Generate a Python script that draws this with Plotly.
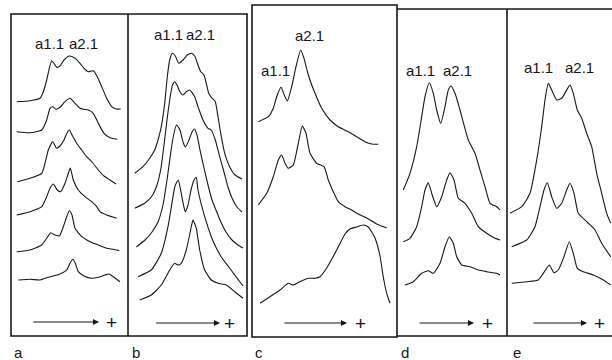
import plotly.graph_objects as go

# ---- densitometric scans (position along strip, trace level) ----
# Panel a
A1_X = [16.7, 30, 40, 43.3, 46.7, 49.3, 51.7, 54, 56.7, 60, 64, 69.3, 75, 80, 84, 88.3, 93.3, 97.3, 101.7, 106.7, 111.7, 116, 120.7]
A1_Y = [101.7, 100.7, 98.3, 91.7, 80, 68.3, 60.7, 63.3, 67.3, 66, 60, 56, 58.3, 63.3, 68.3, 71.7, 70.7, 76.7, 86.7, 98.3, 106.7, 109, 109]
A2_X = [16.7, 30, 41.7, 46.7, 50, 52.7, 56, 60, 65, 70, 75, 79.3, 83.3, 88.3, 93.3, 98.3, 104, 110, 117.3]
A2_Y = [131.7, 132.7, 130, 120, 108.3, 106.7, 109.3, 107.3, 101.7, 98.3, 103.3, 107.7, 109.3, 110, 113.3, 123.3, 133.3, 137.7, 139.3]
A3_X = [17.3, 30, 41.7, 45, 48.3, 52.7, 56.7, 60, 64, 67, 69.3, 72, 76.7, 81.7, 86.7, 92, 98.3, 104, 110, 116]
A3_Y = [181.7, 178.3, 173.3, 163.3, 150, 141.7, 148.3, 146, 140, 133, 130, 135, 143.3, 150, 156.7, 162, 170, 176, 180, 184]
A4_X = [16.7, 30, 41.7, 46.7, 50, 53.3, 57.3, 60.7, 65, 68.3, 70.3, 73.3, 78.3, 85, 91.7, 96.7, 100, 106.7, 116.7]
A4_Y = [215, 211.7, 206.7, 196.7, 188.3, 184, 190, 191.7, 183.3, 173.3, 168, 180, 190, 196.7, 201.7, 206.7, 211.7, 215, 218.3]
A5_X = [16.7, 30, 41.7, 46.7, 50.7, 55, 59.3, 63.3, 66.7, 69.3, 72, 75, 81.7, 90, 98.3, 106.7, 113.3, 119.3]
A5_Y = [251.7, 250, 245, 238.3, 232.7, 235, 236, 226.7, 216.7, 210.7, 215, 228.3, 236.7, 241.7, 245, 248.3, 249.3, 250.7]
A6_X = [18.3, 30, 40, 48.3, 53.3, 60, 66.7, 70, 72.7, 75.3, 78.3, 84, 91.7, 98.3, 105, 109.3, 114, 120]
A6_Y = [280, 279.3, 280, 277.3, 276, 274, 270, 263.3, 259.3, 263.3, 271.7, 276, 278.3, 277.3, 275, 274, 277.3, 281.7]

# Panel b
B1_X = [134.7, 143, 149.7, 154.7, 158, 161.3, 164.7, 167.3, 169.7, 172.3, 175.3, 178.7, 183, 187.3, 191.3, 194.7, 198, 200.7, 204, 206.3, 208.7, 211.3, 215.3, 218, 221.3, 224.7, 229.7, 235, 242]
B1_Y = [173.3, 166.7, 158.3, 150, 140, 126.7, 103.3, 76.7, 60, 53.3, 56, 63.3, 60, 55, 53.3, 56, 65, 71.7, 75, 83.3, 93.3, 97.3, 101.7, 116.7, 136.7, 153.3, 167, 175, 179]
B2_X = [134.7, 145, 152, 157, 161, 164, 167, 170, 172.5, 174.7, 177, 180, 183, 186, 189.7, 194.7, 198, 203, 208, 211.3, 215.3, 219.7, 224, 228, 232, 237, 242]
B2_Y = [208.3, 203, 196, 185, 168, 145, 120, 98, 85, 81.7, 85, 92, 95, 92, 90, 96.7, 106.7, 120, 128.3, 130, 140, 156.7, 172, 187, 198, 207, 212]
B3_X = [136.3, 145, 152, 158, 163, 167, 170, 173, 176.5, 180, 183, 185.5, 189, 192, 194.5, 197, 200, 204, 208, 212, 216, 220, 226, 232, 238, 243]
B3_Y = [247, 240, 232, 222, 205, 180, 158, 138, 125, 130, 142, 147, 140, 132, 129, 135, 150, 168, 185, 200, 210, 220, 232, 240, 245, 248]
B4_X = [138, 151.3, 161.3, 168, 173, 175, 178.3, 181, 183.5, 185.3, 188, 191, 194, 196.3, 198, 204.7, 211.3, 216.3, 222, 228, 234, 240, 243]
B4_Y = [276.7, 270, 253.3, 226.7, 196.7, 186, 180, 192, 205, 211.7, 205, 190, 180, 177.3, 190, 216.7, 236.7, 248, 258, 266, 274, 282, 286]
B5_X = [139.7, 151.3, 161.3, 169.7, 174.7, 178, 181.3, 186.3, 191.3, 193, 196.3, 199.7, 204.7, 211.3, 218, 226.3, 234.7, 243]
B5_Y = [300, 295, 285, 270, 263.3, 265, 263.3, 250, 226.7, 220, 228.3, 250, 270, 280, 283.3, 285, 291.7, 298.3]

# Panel c
C1_X = [258.3, 268.3, 273.3, 276.7, 281, 284.3, 287.3, 291.7, 296, 300.7, 304, 308.3, 315, 321.7, 330, 338.3, 348.3, 356.7, 365, 371.7, 378.3]
C1_Y = [121.7, 116.7, 108.3, 96.7, 87.3, 95, 101, 86.7, 66.7, 50, 58.3, 75, 93.3, 108.3, 120, 126.7, 131.7, 136.7, 141.7, 144, 144.3]
C2_X = [258.3, 266.7, 273.3, 278.3, 281.7, 285, 288.3, 293.3, 298.3, 302.3, 306, 310, 316.7, 324, 328.3, 333.3, 338.3, 345, 351.7, 358.3, 366.7, 376.7, 386.7]
C2_Y = [205, 193.3, 176.7, 160, 155, 163.3, 168.3, 165, 143.3, 126, 133.3, 153.3, 163.3, 166.7, 180, 191.7, 201.7, 206.7, 210, 214, 218, 224, 228]
C3_X = [260, 270, 280, 288.3, 293.3, 300, 308.3, 315, 320, 326.7, 336.7, 345, 350, 356.7, 363.3, 368.3, 375, 380, 383.3, 386.7, 390]
C3_Y = [303.3, 296.7, 290, 283.3, 285, 281.7, 278.3, 278.3, 276.7, 268, 250, 234, 229, 227, 225, 227, 238, 256, 277, 293.3, 303.3]

# Panel d
D1_X = [403.3, 410, 416.7, 421.7, 425, 429.3, 433.3, 436.7, 440.7, 445, 448.3, 451, 455, 460, 468.3, 475, 480, 485, 490, 496.7, 500]
D1_Y = [190, 173.3, 146.7, 116.7, 96.7, 82.7, 93.3, 110, 123.3, 106.7, 90, 86, 93.3, 110, 140, 153.3, 170, 186.7, 203.3, 206.7, 210]
D2_X = [403.3, 410, 416.7, 421.7, 425, 428.3, 431.7, 436.7, 441.7, 446.7, 450, 454, 458.3, 465, 471.7, 478.3, 486.7, 495, 500]
D2_Y = [241.7, 238.3, 226.7, 206.7, 190, 182.7, 193.3, 206.7, 196.7, 180, 172.7, 180, 198.3, 203.3, 213.3, 226.7, 233.3, 238.3, 240]
D3_X = [405, 413.3, 421.7, 428.3, 433.3, 440, 445, 449.3, 453.3, 456.7, 461.7, 470, 478.3, 486.7, 496.7, 500]
D3_Y = [285, 281.7, 273.3, 270.7, 273.3, 263.3, 246.7, 236.7, 243.3, 256.7, 265, 266.7, 270, 271.7, 273.3, 275]

# Panel e
E1_X = [510, 521.7, 530, 536.7, 541.7, 545, 548.3, 551.7, 556.7, 561.7, 566.7, 570, 573.3, 577.3, 581.7, 586.7, 591.7, 596.7, 601.7, 606.7, 610.7]
E1_Y = [213.3, 206.7, 193.3, 160, 126.7, 100, 83.3, 90, 100, 98.3, 90, 85, 93.3, 110, 118.3, 133.3, 146.7, 173.3, 193.3, 213.3, 223.3]
E2_X = [511.7, 526.7, 535, 540, 544, 547.3, 551.7, 556.7, 561.7, 566.7, 570, 574, 578.3, 586.7, 595, 601.7, 608.3, 610.7]
E2_Y = [246.7, 240, 226.7, 206.7, 190, 182.7, 196.7, 208.3, 203.3, 190, 183.3, 193.3, 213.3, 221.7, 230, 243.3, 253.3, 256.7]
E3_X = [511.7, 526.7, 538.3, 543.3, 549.3, 554, 558.3, 564, 569.3, 573.3, 577.3, 583.3, 593.3, 603.3, 610.7]
E3_Y = [283.3, 281.7, 280, 273.3, 265, 272.7, 270, 256.7, 241.7, 253.3, 268.3, 271.7, 275, 280, 285]

TRACES = [
    (A1_X, A1_Y), (A2_X, A2_Y), (A3_X, A3_Y), (A4_X, A4_Y), (A5_X, A5_Y), (A6_X, A6_Y),
    (B1_X, B1_Y), (B2_X, B2_Y), (B3_X, B3_Y), (B4_X, B4_Y), (B5_X, B5_Y),
    (C1_X, C1_Y), (C2_X, C2_Y), (C3_X, C3_Y),
    (D1_X, D1_Y), (D2_X, D2_Y), (D3_X, D3_Y),
    (E1_X, E1_Y), (E2_X, E2_Y), (E3_X, E3_Y),
]

PANEL_LETTERS = ["a", "b", "c", "d", "e"]
PEAK_LABELS = ["a1.1", "a2.1"]

INK = "#161616"
FONT = "Liberation Sans"

fig = go.Figure()
for xs, ys in TRACES:
    fig.add_trace(go.Scatter(
        x=xs, y=ys, mode="lines",
        line=dict(color=INK, width=1.1, shape="spline", smoothing=0.5),
        hoverinfo="skip", showlegend=False,
    ))

# panel frames
frame = dict(color=INK, width=1.6)
shapes = [
    dict(type="rect", x0=11, y0=14, x1=247, y1=336, line=frame),
    dict(type="line", x0=128, y0=14, x1=128, y1=336, line=frame),
    dict(type="rect", x0=252, y0=5, x1=397, y1=337, line=frame),
    dict(type="line", x0=397, y0=9, x1=615, y1=9, line=frame),
    dict(type="line", x0=397, y0=336, x1=615, y1=336, line=frame),
    dict(type="line", x0=507, y0=9, x1=507, y1=336, line=frame),
]
for s in shapes:
    s.update(xref="x", yref="y")
fig.update_layout(shapes=shapes)

# peak labels
label_pos = [
    (49, 43, 0), (83, 43, 1),
    (168, 34, 0), (200, 34, 1),
    (275, 70, 0), (309, 35, 1),
    (420, 70, 0), (457, 70, 1),
    (538, 67, 0), (579, 67, 1),
]
for x, y, k in label_pos:
    fig.add_annotation(x=x, y=y, xref="x", yref="y", text=PEAK_LABELS[k], showarrow=False,
                       font=dict(family=FONT, size=15, color=INK))

# direction arrows (anode +)
arrows = [(31.7, 99, 111, 322), (154.7, 220, 229, 323), (283, 347, 360, 323),
          (418, 474, 487, 323), (532, 587, 599, 323)]
for x0, x1, xp, y in arrows:
    fig.add_annotation(x=x1, y=y, ax=x0, ay=y, xref="x", yref="y", axref="x", ayref="y",
                       text="", showarrow=True, arrowhead=2, arrowsize=1.1, arrowwidth=1.1,
                       arrowcolor=INK)
    fig.add_annotation(x=xp, y=y, xref="x", yref="y", text="+", showarrow=False,
                       font=dict(family=FONT, size=19, color=INK))

# panel letters
letter_x = [18, 136, 259, 405, 517]
for lx, t in zip(letter_x, PANEL_LETTERS):
    fig.add_annotation(x=lx, y=352, xref="x", yref="y", text=t, showarrow=False,
                       font=dict(family=FONT, size=15, color=INK))

fig.update_layout(
    width=612, height=360,
    margin=dict(l=0, r=0, t=0, b=0),
    paper_bgcolor="white", plot_bgcolor="white",
    xaxis=dict(range=[0, 612], visible=False, fixedrange=True),
    yaxis=dict(range=[360, 0], visible=False, fixedrange=True),
)

fig.write_html(
    "out.html",
    config={"displayModeBar": False},
    post_script="document.body.style.margin='0';document.body.style.overflow='hidden';",
)
